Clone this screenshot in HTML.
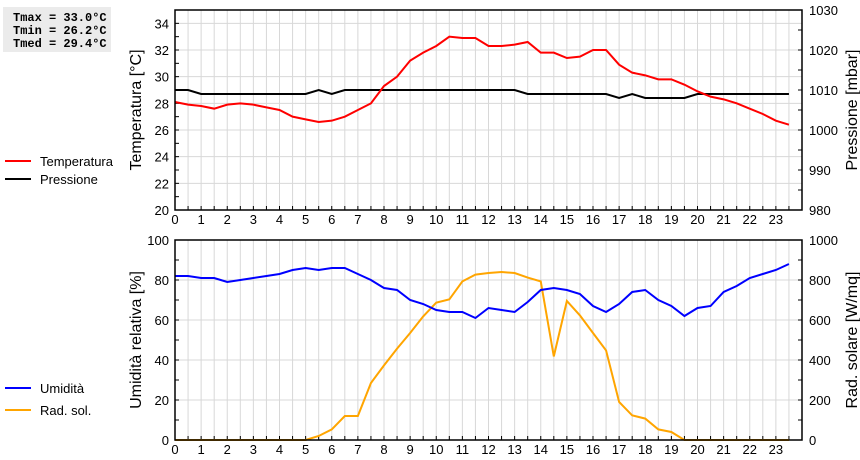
<!DOCTYPE html>
<html><head><meta charset="utf-8"><style>
body{margin:0;background:#fff;width:860px;height:460px;overflow:hidden}
svg{display:block;font-family:"Liberation Sans",sans-serif}
</style></head><body>
<svg id="c" width="860" height="460" xmlns="http://www.w3.org/2000/svg">
<rect x="3" y="7" width="108" height="45" fill="#ebebeb"/>
<g font-family="Liberation Mono,monospace" font-weight="bold" font-size="12" fill="#000">
<text x="13" y="21">Tmax = 33.0°C</text>
<text x="13" y="34">Tmin = 26.2°C</text>
<text x="13" y="47">Tmed = 29.4°C</text>
</g>
<g id="top"></g>
<g id="bot"></g>
<g font-size="13">
<line x1="5" y1="161" x2="31" y2="161" stroke="#f00" stroke-width="2"/>
<text x="40" y="166">Temperatura</text>
<line x1="5" y1="179" x2="31" y2="179" stroke="#000" stroke-width="2"/>
<text x="40" y="184">Pressione</text>
<line x1="5" y1="388" x2="31" y2="388" stroke="#00f" stroke-width="2"/>
<text x="40" y="393">Umidità</text>
<line x1="5" y1="410" x2="31" y2="410" stroke="#ffa500" stroke-width="2"/>
<text x="40" y="415">Rad. sol.</text>
</g>
</svg>
<script>
const hours=[];for(let i=0;i<48;i++)hours.push(i/2);
const tempVals=[28.1,27.9,27.8,27.6,27.9,28.0,27.9,27.7,27.5,27.0,26.8,26.6,26.7,27.0,27.5,28.0,29.3,30.0,31.2,31.8,32.3,33.0,32.9,32.9,32.3,32.3,32.4,32.6,31.8,31.8,31.4,31.5,32.0,32.0,30.9,30.3,30.1,29.8,29.8,29.4,28.9,28.5,28.3,28.0,27.6,27.2,26.7,26.4];
const presVals=[1010,1010,1009,1009,1009,1009,1009,1009,1009,1009,1009,1010,1009,1010,1010,1010,1010,1010,1010,1010,1010,1010,1010,1010,1010,1010,1010,1009,1009,1009,1009,1009,1009,1009,1008,1009,1008,1008,1008,1008,1009,1009,1009,1009,1009,1009,1009,1009];
const humVals=[82,82,81,81,79,80,81,82,83,85,86,85,86,86,83,80,76,75,70,68,65,64,64,61,66,65,64,69,75,76,75,73,67,64,68,74,75,70,67,62,66,67,74,77,81,83,85,88];
const radVals=[0,0,0,0,0,0,0,0,0,0,0,20,53,120,120,285,373,457,535,618,687,703,793,827,835,840,835,812,793,418,695,623,535,448,190,123,107,53,40,0,0,0,0,0,0,0,0,0];
const xTicks=[...Array(24).keys()];
const tempTicks=[20,22,24,26,28,30,32,34];
const presTicks=[980,990,1000,1010,1020,1030];
const humTicks=[0,20,40,60,80,100];
const radTicks=[0,200,400,600,800,1000];
const NS="http://www.w3.org/2000/svg";
const X0=175,X1=802;
const xs=h=>X0+(X1-X0)*h/24;
function mk(p,t,a){const e=document.createElementNS(NS,t);for(const k in a)e.setAttribute(k,a[k]);p.appendChild(e);return e;}
function panel(g,top,lmin,lmax,lt,rmin,rmax,rt,ltitle,rtitle,s1,c1,s2,c2,n1,n2){
 const bot=top+200;
 const yl=v=>bot-(v-lmin)/(lmax-lmin)*200, yr=v=>bot-(v-rmin)/(rmax-rmin)*200;
 for(let i=1;i<48;i++){const l=mk(g,'line',{x1:xs(i/2),x2:xs(i/2),y1:top,y2:bot,stroke:'#d8d8d8'});
 
 }
 lt.forEach(v=>{if(v>lmin&&v<lmax){const l=mk(g,'line',{x1:X0,x2:X1,y1:yl(v),y2:yl(v),stroke:'#d8d8d8'});
 
 }});
 const step=lt[1]-lt[0];
 for(let v=lmin;v<=lmax+1e-9;v+=step/2){const l=mk(g,'line',{x1:X0,x2:X0+4,y1:yl(v),y2:yl(v),stroke:'#000'});
 
 }
 const rs=rt[1]-rt[0];
 for(let v=rmin;v<=rmax+1e-9;v+=rs/2){const l=mk(g,'line',{x1:X1-4,x2:X1,y1:yr(v),y2:yr(v),stroke:'#000'});
 
 }
 for(let i=1;i<48;i++){const l=mk(g,'line',{x1:xs(i/2),x2:xs(i/2),y1:bot-4,y2:bot,stroke:'#000'});
 
 }
 lt.forEach(v=>{const t=mk(g,'text',{x:X0-6,y:yl(v)+5,'text-anchor':'end','font-size':13});t.textContent=v;
 
 });
 rt.forEach(v=>{const t=mk(g,'text',{x:X1+7,y:yr(v)+5,'font-size':13});t.textContent=v;
 
 });
 xTicks.forEach(h=>{const t=mk(g,'text',{x:xs(h),y:bot+14,'text-anchor':'middle','font-size':13});t.textContent=h;
 
 });
 const a=mk(g,'text',{x:0,y:0,'text-anchor':'middle','font-size':16,transform:`translate(141,${top+100}) rotate(-90)`});a.textContent=ltitle;
 
 
 const b=mk(g,'text',{x:0,y:0,'text-anchor':'middle','font-size':16,transform:`translate(857,${top+100}) rotate(-90)`});b.textContent=rtitle;
 
 
 const p2=mk(g,'polyline',{points:hours.map((h,i)=>xs(h)+','+yr(s2[i])).join(' '),fill:'none',stroke:c2,'stroke-width':2});
 
 
 const p1=mk(g,'polyline',{points:hours.map((h,i)=>xs(h)+','+yl(s1[i])).join(' '),fill:'none',stroke:c1,'stroke-width':2});
 
 
 const f=mk(g,'rect',{x:X0,y:top,width:X1-X0,height:200,fill:'none',stroke:'#000','stroke-width':1.5});
 
 
}
panel(document.getElementById('top'),10,20,35,tempTicks,980,1030,presTicks,'Temperatura [°C]','Pressione [mbar]',tempVals,'#f00',presVals,'#000','temperature-line','pressure-line');
panel(document.getElementById('bot'),240,0,100,humTicks,0,1000,radTicks,'Umidità relativa [%]','Rad. solare [W/mq]',humVals,'#00f',radVals,'#ffa500','humidity-line','radiation-line');
</script>
</body></html>
